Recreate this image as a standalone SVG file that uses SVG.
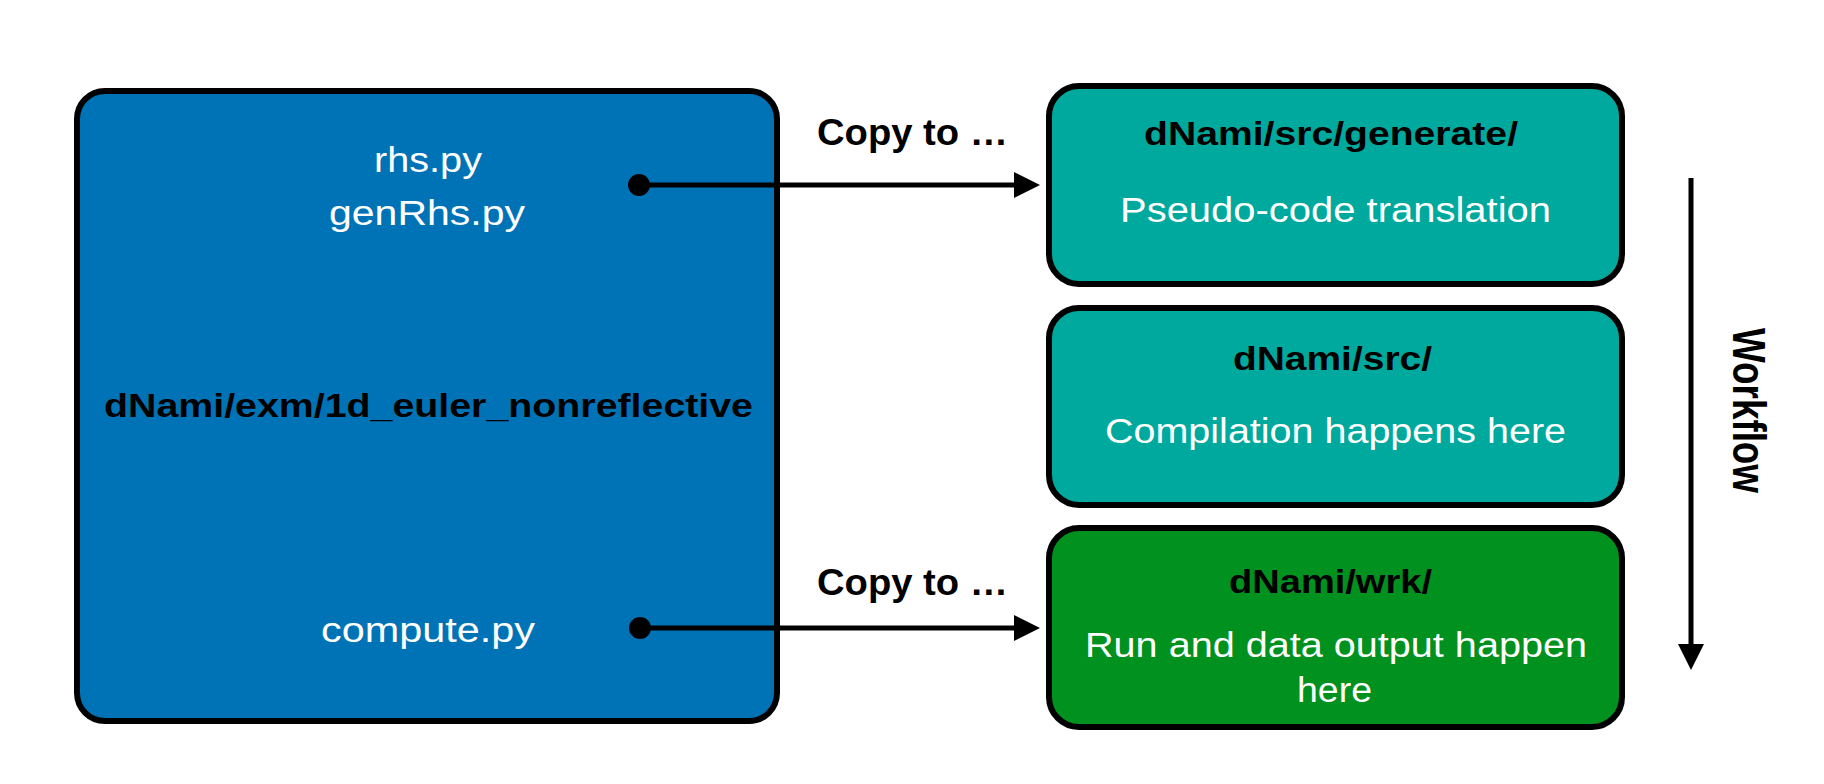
<svg xmlns="http://www.w3.org/2000/svg" width="1824" height="784" viewBox="0 0 1824 784">
<style>
.box{stroke:#000;stroke-width:6}
.blue{fill:#0073b7}
.teal{fill:#00a99e}
.green{fill:#00911f}
.w{font-family:"Liberation Sans",Arial,Helvetica,sans-serif;font-size:35px;fill:#fff;text-anchor:middle}
.b{font-family:"Liberation Sans",Arial,Helvetica,sans-serif;font-size:33px;font-weight:bold;fill:#000;text-anchor:middle}
.lbl{font-family:"Liberation Sans",Arial,Helvetica,sans-serif;font-size:37px;font-weight:bold;fill:#000;text-anchor:middle}
.ln{stroke:#000;stroke-width:5;fill:none}
</style>
<defs>
<marker id="ah" markerUnits="userSpaceOnUse" viewBox="0 0 26 26" markerWidth="26" markerHeight="26" refX="1" refY="13" orient="auto">
<path d="M0,0 L26,13 L0,26 z" fill="#000"/>
</marker>
</defs>
<rect width="1824" height="784" fill="#fff"/>
<g id="node-example">
<rect class="box blue" x="77" y="91" width="700" height="630" rx="28"/>
<text class="w" x="428" y="172" textLength="108" lengthAdjust="spacingAndGlyphs">rhs.py</text>
<text class="w" x="427" y="225" textLength="196" lengthAdjust="spacingAndGlyphs">genRhs.py</text>
<text class="b" x="428.5" y="417" textLength="649" lengthAdjust="spacingAndGlyphs">dNami/exm/1d_euler_nonreflective</text>
<text class="w" x="428" y="642" textLength="214" lengthAdjust="spacingAndGlyphs">compute.py</text>
</g>
<g id="node-generate">
<rect class="box teal" x="1049" y="86" width="573" height="198" rx="30"/>
<text class="b" x="1331" y="145" textLength="374" lengthAdjust="spacingAndGlyphs">dNami/src/generate/</text>
<text class="w" x="1335.5" y="222" textLength="431" lengthAdjust="spacingAndGlyphs">Pseudo-code translation</text>
</g>
<g id="node-src">
<rect class="box teal" x="1049" y="308" width="573" height="197" rx="30"/>
<text class="b" x="1332.5" y="370" textLength="199" lengthAdjust="spacingAndGlyphs">dNami/src/</text>
<text class="w" x="1335.5" y="443" textLength="461" lengthAdjust="spacingAndGlyphs">Compilation happens here</text>
</g>
<g id="node-wrk">
<rect class="box green" x="1049" y="528" width="573" height="199" rx="30"/>
<text class="b" x="1330.5" y="593" textLength="203" lengthAdjust="spacingAndGlyphs">dNami/wrk/</text>
<text class="w" x="1336" y="657" textLength="502" lengthAdjust="spacingAndGlyphs">Run and data output happen</text>
<text class="w" x="1334.5" y="702" textLength="75" lengthAdjust="spacingAndGlyphs">here</text>
</g>
<g id="connectors">
<circle cx="639" cy="185" r="11" fill="#000"/>
<line class="ln" x1="639" y1="185" x2="1015" y2="185" marker-end="url(#ah)"/>
<text class="lbl" x="912.5" y="145" textLength="191" lengthAdjust="spacingAndGlyphs">Copy to …</text>
<circle cx="640" cy="628" r="11" fill="#000"/>
<line class="ln" x1="640" y1="628" x2="1015" y2="628" marker-end="url(#ah)"/>
<text class="lbl" x="912.5" y="595" textLength="191" lengthAdjust="spacingAndGlyphs">Copy to …</text>
<line class="ln" x1="1691" y1="178" x2="1691" y2="645" marker-end="url(#ah)"/>
<text class="lbl" transform="translate(1733,410.5) rotate(90)" x="0" y="0" style="font-size:46px" textLength="165" lengthAdjust="spacingAndGlyphs">Workflow</text>
</g>
</svg>
